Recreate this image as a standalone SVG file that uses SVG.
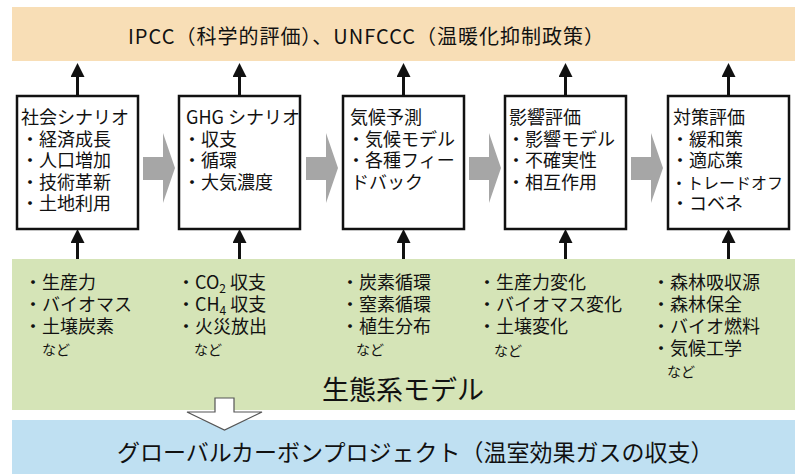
<svg xmlns="http://www.w3.org/2000/svg" width="795" height="474" viewBox="0 0 795 474">
<style>
text{font-family:"Noto Sans CJK JP","Noto Sans",sans-serif;fill:#111}
.bx{fill:#fff;stroke:#111;stroke-width:2.5}
.t{font-size:18px}
.s{font-size:14px}
.ln{stroke:#111;stroke-width:3;fill:none}
.ga{fill:#a6a6a6}
</style>
<defs>
<marker id="ah" markerUnits="userSpaceOnUse" markerWidth="14" markerHeight="14" refX="0" refY="7" orient="auto">
<path d="M0,0 L14,7 L0,14 Z" fill="#111"/>
</marker>
</defs>
<rect width="795" height="474" fill="#fff"/>
<g id="ipcc">
<rect x="12" y="7" width="783" height="54" fill="#f8deb6"/>
<text x="128" y="44" font-size="20" textLength="476" lengthAdjust="spacing">IPCC（科学的評価）、UNFCCC（温暖化抑制政策）</text>
</g>
<g id="ecosystem">
<rect x="12" y="259" width="783" height="151" fill="#d5e4b7"/>
<text x="322" y="400" font-size="27">生態系モデル</text>
<text class="t" x="24" y="289">・生産力<tspan x="24" dy="22">・バイオマス</tspan><tspan x="24" dy="22">・土壌炭素</tspan><tspan x="42" dy="22" class="s">など</tspan></text>
<text class="t" x="177" y="289">・CO<tspan font-size="12" dy="4">2</tspan><tspan dy="-4"> 収支</tspan><tspan x="177" dy="22">・CH</tspan><tspan font-size="12" dy="4">4</tspan><tspan dy="-4"> 収支</tspan><tspan x="177" dy="22">・火災放出</tspan><tspan x="194" dy="22" class="s">など</tspan></text>
<text class="t" x="341" y="289">・炭素循環<tspan x="341" dy="22">・窒素循環</tspan><tspan x="341" dy="22">・植生分布</tspan><tspan x="356" dy="22" class="s">など</tspan></text>
<text class="t" x="478" y="289">・生産力変化<tspan x="478" dy="22">・バイオマス変化</tspan><tspan x="478" dy="22">・土壌変化</tspan><tspan x="494" dy="23" class="s">など</tspan></text>
<text class="t" x="652" y="289">・森林吸収源<tspan x="652" dy="22">・森林保全</tspan><tspan x="652" dy="22">・バイオ燃料</tspan><tspan x="652" dy="22">・気候工学</tspan><tspan x="667" dy="22" class="s">など</tspan></text>
</g>
<g id="gcp">
<rect x="12" y="420" width="783" height="54" fill="#bfe0f2"/>
<text x="117" y="461" font-size="23">グローバルカーボンプロジェクト（温室効果ガスの収支）</text>
</g>
<g id="social">
<rect class="bx" x="17" y="96" width="121" height="133"/>
<text class="t" x="21" y="124">社会シナリオ<tspan x="21" dy="21.5">・経済成長</tspan><tspan x="21" dy="21.5">・人口増加</tspan><tspan x="21" dy="21.5">・技術革新</tspan><tspan x="21" dy="21.5">・土地利用</tspan></text>
</g>
<g id="ghg">
<rect class="bx" x="179" y="96" width="121" height="133"/>
<text class="t" x="186" y="124">GHG シナリオ<tspan x="183" dy="21.5">・収支</tspan><tspan x="183" dy="21.5">・循環</tspan><tspan x="183" dy="21.5">・大気濃度</tspan></text>
</g>
<g id="climate">
<rect class="bx" x="343" y="96" width="121" height="133"/>
<text class="t" x="350" y="124">気候予測<tspan x="347" dy="21.5">・気候モデル</tspan><tspan x="347" dy="21.5">・各種フィー</tspan><tspan x="351" dy="21.5">ドバック</tspan></text>
</g>
<g id="impact">
<rect class="bx" x="505" y="96" width="121" height="133"/>
<text class="t" x="509" y="124">影響評価<tspan x="507" dy="21.5">・影響モデル</tspan><tspan x="507" dy="21.5">・不確実性</tspan><tspan x="507" dy="21.5">・相互作用</tspan></text>
</g>
<g id="policy">
<rect class="bx" x="668" y="96" width="121" height="133"/>
<text class="t" x="673" y="124">対策評価<tspan x="671" dy="21.5">・緩和策</tspan><tspan x="671" dy="21.5">・適応策</tspan><tspan x="671" dy="21.5" font-size="16">・トレードオフ</tspan><tspan x="671" dy="21.5">・コベネ</tspan></text>
</g>
<g id="connectors">
<path class="ln" marker-end="url(#ah)" d="M77.5,96 V77"/>
<path class="ln" marker-end="url(#ah)" d="M239.5,96 V77"/>
<path class="ln" marker-end="url(#ah)" d="M403.5,96 V77"/>
<path class="ln" marker-end="url(#ah)" d="M565.5,96 V77"/>
<path class="ln" marker-end="url(#ah)" d="M728.5,96 V77"/>
<path class="ln" marker-end="url(#ah)" d="M77.5,259 V243"/>
<path class="ln" marker-end="url(#ah)" d="M239.5,259 V243"/>
<path class="ln" marker-end="url(#ah)" d="M403.5,259 V243"/>
<path class="ln" marker-end="url(#ah)" d="M565.5,259 V243"/>
<path class="ln" marker-end="url(#ah)" d="M728.5,259 V243"/>
<path class="ga" d="M143,157 h20 v-24 l12,35 l-12,35 v-23 h-20 z"/>
<path class="ga" d="M306,157 h20 v-24 l12,35 l-12,35 v-23 h-20 z"/>
<path class="ga" d="M469,157 h20 v-24 l12,35 l-12,35 v-23 h-20 z"/>
<path class="ga" d="M631,157 h20 v-24 l12,35 l-12,35 v-23 h-20 z"/>
<path d="M215,398 H234 V412 H262 L224.5,430 L187,412 H215 Z" fill="#fff" stroke="#555" stroke-width="1.2"/>
</g>
</svg>
